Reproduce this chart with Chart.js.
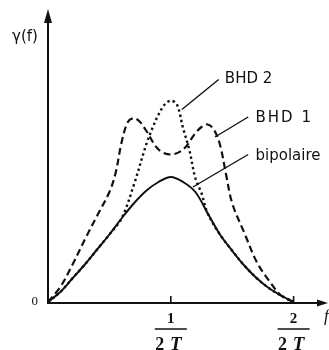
<!DOCTYPE html>
<html>
<head>
<meta charset="utf-8">
<script src="https://cdn.jsdelivr.net/npm/chart.js@4.4.0/dist/chart.umd.min.js"></script>
<style>
  html, body { margin: 0; padding: 0; background: #fff; }
</style>
</head>
<body>
<canvas id="spectre" width="329" height="350"></canvas>
<script>
// Frequency axis in units of 1/2T, spectral density normalised to the bipolar peak
const xBipolaire = [0, 0.1, 0.2, 0.3, 0.4, 0.5, 0.6, 0.7, 0.8, 0.9, 1.0, 1.1, 1.2, 1.3, 1.4, 1.5, 1.6, 1.7, 1.8, 1.9, 2.0];
const yBipolaire = [0, 0.08, 0.19, 0.30, 0.42, 0.54, 0.67, 0.79, 0.89, 0.96, 1.00, 0.96, 0.88, 0.71, 0.54, 0.41, 0.29, 0.19, 0.11, 0.05, 0];

const xBhd1 = [0, 0.1, 0.2, 0.3, 0.4, 0.5, 0.55, 0.6, 0.65, 0.7, 0.75, 0.8, 0.9, 1.0, 1.1, 1.2, 1.25, 1.3, 1.35, 1.4, 1.45, 1.5, 1.6, 1.7, 1.8, 1.9, 2.0];
const yBhd1 = [0, 0.12, 0.30, 0.50, 0.69, 0.88, 1.03, 1.28, 1.44, 1.47, 1.44, 1.37, 1.22, 1.18, 1.22, 1.35, 1.40, 1.42, 1.38, 1.26, 1.02, 0.79, 0.55, 0.32, 0.17, 0.05, 0];

const xBhd2 = [0, 0.1, 0.2, 0.3, 0.4, 0.5, 0.6, 0.7, 0.8, 0.85, 0.9, 0.95, 1.0, 1.05, 1.1, 1.15, 1.2, 1.25, 1.3, 1.4, 1.5, 1.6, 1.7, 1.8, 1.9, 2.0];
const yBhd2 = [0, 0.08, 0.19, 0.30, 0.42, 0.54, 0.67, 0.94, 1.26, 1.39, 1.50, 1.58, 1.61, 1.58, 1.39, 1.22, 0.99, 0.87, 0.71, 0.54, 0.41, 0.29, 0.19, 0.11, 0.05, 0];

// tick positions and their fraction labels (numerator over "2T")
const xTicks = [1, 2];
const xTickNum = ['1', '2'];

const seriesNames = ['bipolaire', 'BHD 1', 'BHD 2'];

const zip = (xs, ys) => xs.map((x, i) => ({ x, y: ys[i] }));

// curve names with leader lines, placed in data coordinates
const callouts = [
  { text: seriesNames[2], at: [1.44, 1.75], from: [1.09, 1.54], to: [1.39, 1.78], spacing: 0 },
  { text: seriesNames[1], at: [1.69, 1.44], from: [1.36, 1.32], to: [1.63, 1.48], spacing: 2 },
  { text: seriesNames[0], at: [1.69, 1.14], from: [1.18, 0.92], to: [1.63, 1.18], spacing: 0 }
];

const axesPlugin = {
  id: 'axes',
  afterDraw(chart) {
    const ctx = chart.ctx;
    const { left, right, top, bottom } = chart.chartArea;
    const xs = chart.scales.x, ys = chart.scales.y;
    ctx.save();
    ctx.strokeStyle = '#111';
    ctx.fillStyle = '#111';
    ctx.lineWidth = 2;

    // axes
    ctx.beginPath();
    ctx.moveTo(left, bottom + 1);
    ctx.lineTo(left, top + 10);
    ctx.moveTo(left - 1, bottom + 1);
    ctx.lineTo(right - 8, bottom + 1);
    ctx.stroke();

    // arrow heads
    ctx.beginPath();
    ctx.moveTo(left, top);
    ctx.lineTo(left - 4, top + 14);
    ctx.lineTo(left + 4, top + 14);
    ctx.closePath();
    ctx.fill();
    ctx.beginPath();
    ctx.moveTo(right, bottom + 1);
    ctx.lineTo(right - 11, bottom - 2.5);
    ctx.lineTo(right - 11, bottom + 4.5);
    ctx.closePath();
    ctx.fill();

    // ticks + fraction labels
    ctx.lineWidth = 1.6;
    xTicks.forEach((v, i) => {
      const px = xs.getPixelForValue(v);
      ctx.beginPath();
      ctx.moveTo(px, bottom - 6);
      ctx.lineTo(px, bottom + 1);
      ctx.stroke();

      ctx.textAlign = 'center';
      ctx.textBaseline = 'alphabetic';
      ctx.font = 'bold 15px "Liberation Serif"';
      ctx.fillText(xTickNum[i], px, bottom + 21);
      ctx.beginPath();
      ctx.moveTo(px - 16, bottom + 27);
      ctx.lineTo(px + 16, bottom + 27);
      ctx.stroke();
      ctx.font = 'bold 18px "Liberation Serif"';
      ctx.fillText('2', px - 11, bottom + 48);
      ctx.font = 'italic bold 19px "Liberation Serif"';
      ctx.fillText('T', px + 5, bottom + 48);
    });

    // origin, axis names
    ctx.font = '13px "Liberation Serif"';
    ctx.textAlign = 'right';
    ctx.fillText('0', left - 10, bottom + 3);
    ctx.font = 'italic 17px "Liberation Serif"';
    ctx.textAlign = 'left';
    ctx.fillText('f', right - 4, bottom + 19);
    ctx.font = '15px "DejaVu Sans"';
    ctx.fillText('γ(f)', 12, top + 32);

    // curve names
    ctx.lineWidth = 1.4;
    callouts.forEach(c => {
      ctx.beginPath();
      ctx.moveTo(xs.getPixelForValue(c.from[0]), ys.getPixelForValue(c.from[1]));
      ctx.lineTo(xs.getPixelForValue(c.to[0]), ys.getPixelForValue(c.to[1]));
      ctx.stroke();
      ctx.font = '15px "DejaVu Sans"';
      ctx.letterSpacing = c.spacing + 'px';
      ctx.fillText(c.text, xs.getPixelForValue(c.at[0]), ys.getPixelForValue(c.at[1]));
    });
    ctx.restore();
  }
};

new Chart(document.getElementById('spectre'), {
  type: 'line',
  data: {
    datasets: [
      {
        label: seriesNames[0],
        data: zip(xBipolaire, yBipolaire),
        borderColor: '#111',
        borderWidth: 2,
        tension: 0.35,
        pointRadius: 0,
        clip: 6
      },
      {
        label: seriesNames[1],
        data: zip(xBhd1, yBhd1),
        borderColor: '#111',
        borderWidth: 2.2,
        borderDash: [7, 4],
        tension: 0.35,
        pointRadius: 0,
        clip: 6
      },
      {
        label: seriesNames[2],
        data: zip(xBhd2, yBhd2),
        borderColor: '#111',
        borderWidth: 2.4,
        borderDash: [2.4, 3],
        tension: 0.35,
        pointRadius: 0,
        clip: 6
      }
    ]
  },
  options: {
    responsive: false,
    animation: false,
    devicePixelRatio: 1,
    layout: { padding: { left: 48, right: 1, top: 9, bottom: 48 } },
    plugins: { legend: { display: false }, tooltip: { enabled: false } },
    scales: {
      x: { type: 'linear', min: 0, max: 2.28, display: false },
      y: { min: 0, max: 2.344, display: false }
    }
  },
  plugins: [axesPlugin]
});
</script>
</body>
</html>
